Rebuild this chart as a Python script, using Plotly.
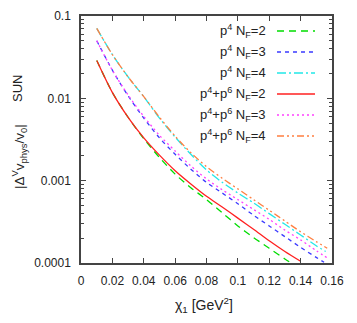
import plotly.graph_objects as go

# ---- data ----
x_p4_nf2 = [0.01, 0.02, 0.03, 0.04, 0.05, 0.06, 0.07, 0.08, 0.09, 0.10, 0.11, 0.12, 0.13, 0.134]
y_p4_nf2 = [0.0288, 0.01175, 0.00589, 0.00324, 0.00191, 0.00120, 0.000822, 0.000589, 0.000407,
            0.000282, 0.000204, 0.000151, 0.000112, 0.0001]

x_p4_nf3 = [0.01, 0.02, 0.03, 0.04, 0.05, 0.06, 0.07, 0.08, 0.09, 0.10, 0.11, 0.12, 0.13, 0.14, 0.15, 0.155]
y_p4_nf3 = [0.0501, 0.0219, 0.01072, 0.00575, 0.00331, 0.00209, 0.00138, 0.000955, 0.000708,
            0.000525, 0.000380, 0.000282, 0.000209, 0.000155, 0.000117, 0.000102]

x_p4_nf4 = [0.01, 0.02, 0.03, 0.04, 0.05, 0.06, 0.07, 0.08, 0.09, 0.10, 0.11, 0.12, 0.13, 0.14, 0.15, 0.156]
y_p4_nf4 = [0.0708, 0.0339, 0.0182, 0.01047, 0.00575, 0.00339, 0.00209, 0.00135, 0.000955,
            0.000708, 0.000537, 0.000398, 0.000295, 0.000219, 0.000162, 0.000138]

x_p46_nf2 = [0.01, 0.02, 0.03, 0.04, 0.05, 0.06, 0.07, 0.08, 0.09, 0.10, 0.11, 0.12, 0.13, 0.14]
y_p46_nf2 = [0.0288, 0.01175, 0.00589, 0.00331, 0.00204, 0.00132, 0.000912, 0.000646, 0.000479,
             0.000351, 0.000257, 0.000186, 0.000138, 0.000105]

x_p46_nf3 = [0.01, 0.02, 0.03, 0.04, 0.05, 0.06, 0.07, 0.08, 0.09, 0.10, 0.11, 0.12, 0.13, 0.14, 0.15, 0.158]
y_p46_nf3 = [0.0501, 0.0219, 0.01096, 0.00603, 0.00355, 0.00229, 0.00151, 0.00105, 0.000776,
             0.000589, 0.000447, 0.000339, 0.000251, 0.000191, 0.000141, 0.000112]

x_p46_nf4 = [0.01, 0.02, 0.03, 0.04, 0.05, 0.06, 0.07, 0.08, 0.09, 0.10, 0.11, 0.12, 0.13, 0.14, 0.15, 0.157]
y_p46_nf4 = [0.0708, 0.0339, 0.0182, 0.01047, 0.00589, 0.00347, 0.00219, 0.00148, 0.00107,
             0.000794, 0.000589, 0.000437, 0.000324, 0.000240, 0.000182, 0.000151]

series_names = ["p<sup>4</sup> N<sub>F</sub>=2", "p<sup>4</sup> N<sub>F</sub>=3", "p<sup>4</sup> N<sub>F</sub>=4",
                "p<sup>4</sup>+p<sup>6</sup> N<sub>F</sub>=2", "p<sup>4</sup>+p<sup>6</sup> N<sub>F</sub>=3",
                "p<sup>4</sup>+p<sup>6</sup> N<sub>F</sub>=4"]

x_tick_vals = [0, 0.02, 0.04, 0.06, 0.08, 0.1, 0.12, 0.14, 0.16]
x_tick_text = ["0", "0.02", "0.04", "0.06", "0.08", "0.1", "0.12", "0.14", "0.16"]
y_tick_vals = [0.0001, 0.001, 0.01, 0.1]
y_tick_text = ["0.0001", "0.001", "0.01", "0.1"]

x_title = "χ<sub>1</sub> [GeV<sup>2</sup>]"
y_title = "|Δ<sup>V</sup>v<sub>phys</sub>/v<sub>0</sub>|"
y_title_extra = "SUN"

# ---- styles ----
styles = [
    dict(color="#00dd00", width=1.3, dash="7px,5px"),
    dict(color="#3a3aff", width=1.3, dash="4px,4px"),
    dict(color="#22e8e8", width=1.3, dash="9px,3px,2px,3px"),
    dict(color="#ff2020", width=1.3, dash="solid"),
    dict(color="#ff40ff", width=1.3, dash="2px,3px"),
    dict(color="#ff7f40", width=1.3, dash="7px,3px,2px,3px,2px,3px"),
]

data = [(x_p4_nf2, y_p4_nf2), (x_p4_nf3, y_p4_nf3), (x_p4_nf4, y_p4_nf4),
        (x_p46_nf2, y_p46_nf2), (x_p46_nf3, y_p46_nf3), (x_p46_nf4, y_p46_nf4)]

fig = go.Figure()
for (xs, ys), name, st in zip(data, series_names, styles):
    fig.add_trace(go.Scatter(x=xs, y=ys, mode="lines", name=name,
                             line=dict(color=st["color"], width=st["width"], dash=st["dash"],
                                       shape="spline", smoothing=0.8),
                             showlegend=False))

# page body has an 8px margin, so the figure is shrunk and shifted accordingly
OFF = 8
W, H = 357 - OFF, 323 - OFF
ml, mr, mt, mb = 81 - OFF, 25, 16 - OFF, 60
pw, ph = W - ml - mr, H - mt - mb


def px_to_paper(px, py):
    return (px - OFF - ml) / pw, 1 - (py - OFF - mt) / ph


font = dict(family="Liberation Sans, Arial, sans-serif", size=12, color="#222222")
legend_font = dict(family="Liberation Sans, Arial, sans-serif", size=13, color="#222222")
title_font = dict(family="Liberation Sans, Arial, sans-serif", size=14, color="#222222")
ytitle_font = dict(family="Liberation Sans, Arial, sans-serif", size=13.5, color="#222222")
sun_font = dict(family="Liberation Sans, Arial, sans-serif", size=13, color="#222222")
axis_color = "#444444"

# legend (gnuplot style: text right-aligned, sample on the right), positions in page px
text_right_px = 268
sample_x0_px, sample_x1_px = 277, 315
row_y_px = [31, 52, 73, 94, 115, 136]
annotations = []
shapes = []
for name, st, ry in zip(series_names, styles, row_y_px):
    tx, ty = px_to_paper(text_right_px, ry)
    annotations.append(dict(xref="paper", yref="paper", x=tx, y=ty,
                            text=name, showarrow=False, xanchor="right", yanchor="middle",
                            font=legend_font))
    sx0, _ = px_to_paper(sample_x0_px, ry)
    sx1, _ = px_to_paper(sample_x1_px, ry)
    shapes.append(dict(type="line", xref="paper", yref="paper",
                       x0=sx0, x1=sx1, y0=ty, y1=ty,
                       line=dict(color=st["color"], width=st["width"], dash=st["dash"])))

# axis titles
ax_, ay_ = px_to_paper(204, 305)
annotations.append(dict(xref="paper", yref="paper", x=ax_, y=ay_, text=x_title, showarrow=False,
                        xanchor="center", yanchor="middle", font=title_font))
ax_, ay_ = px_to_paper(19, 157)
annotations.append(dict(xref="paper", yref="paper", x=ax_, y=ay_, text=y_title, showarrow=False,
                        textangle=-90, xanchor="center", yanchor="middle", font=ytitle_font))
ax_, ay_ = px_to_paper(17, 89)
annotations.append(dict(xref="paper", yref="paper", x=ax_, y=ay_, text=y_title_extra, showarrow=False,
                        textangle=-90, xanchor="center", yanchor="middle", font=sun_font))

fig.update_layout(
    template="none",
    width=W, height=H,
    margin=dict(l=ml, r=mr, t=mt, b=mb),
    paper_bgcolor="white", plot_bgcolor="white",
    font=font,
    showlegend=False,
    annotations=annotations,
    shapes=shapes,
    xaxis=dict(range=[-0.00005, 0.16005], tickvals=x_tick_vals, ticktext=x_tick_text, automargin=False,
               ticks="inside", ticklen=5, tickcolor=axis_color, showgrid=False, zeroline=False,
               showline=True, linecolor=axis_color, linewidth=1.5, mirror="ticks",
               ticklabelstandoff=6),
    yaxis=dict(type="log", range=[-4, -1], tickvals=y_tick_vals, ticktext=y_tick_text, automargin=False,
               ticks="inside", ticklen=5, tickcolor=axis_color, showgrid=False, zeroline=False,
               showline=True, linecolor=axis_color, linewidth=1.5, mirror="ticks",
               ticklabelstandoff=6,
               minor=dict(ticks="inside", ticklen=3, tickcolor=axis_color, dtick="D1", showgrid=False)),
)

fig.write_html("out.html")
